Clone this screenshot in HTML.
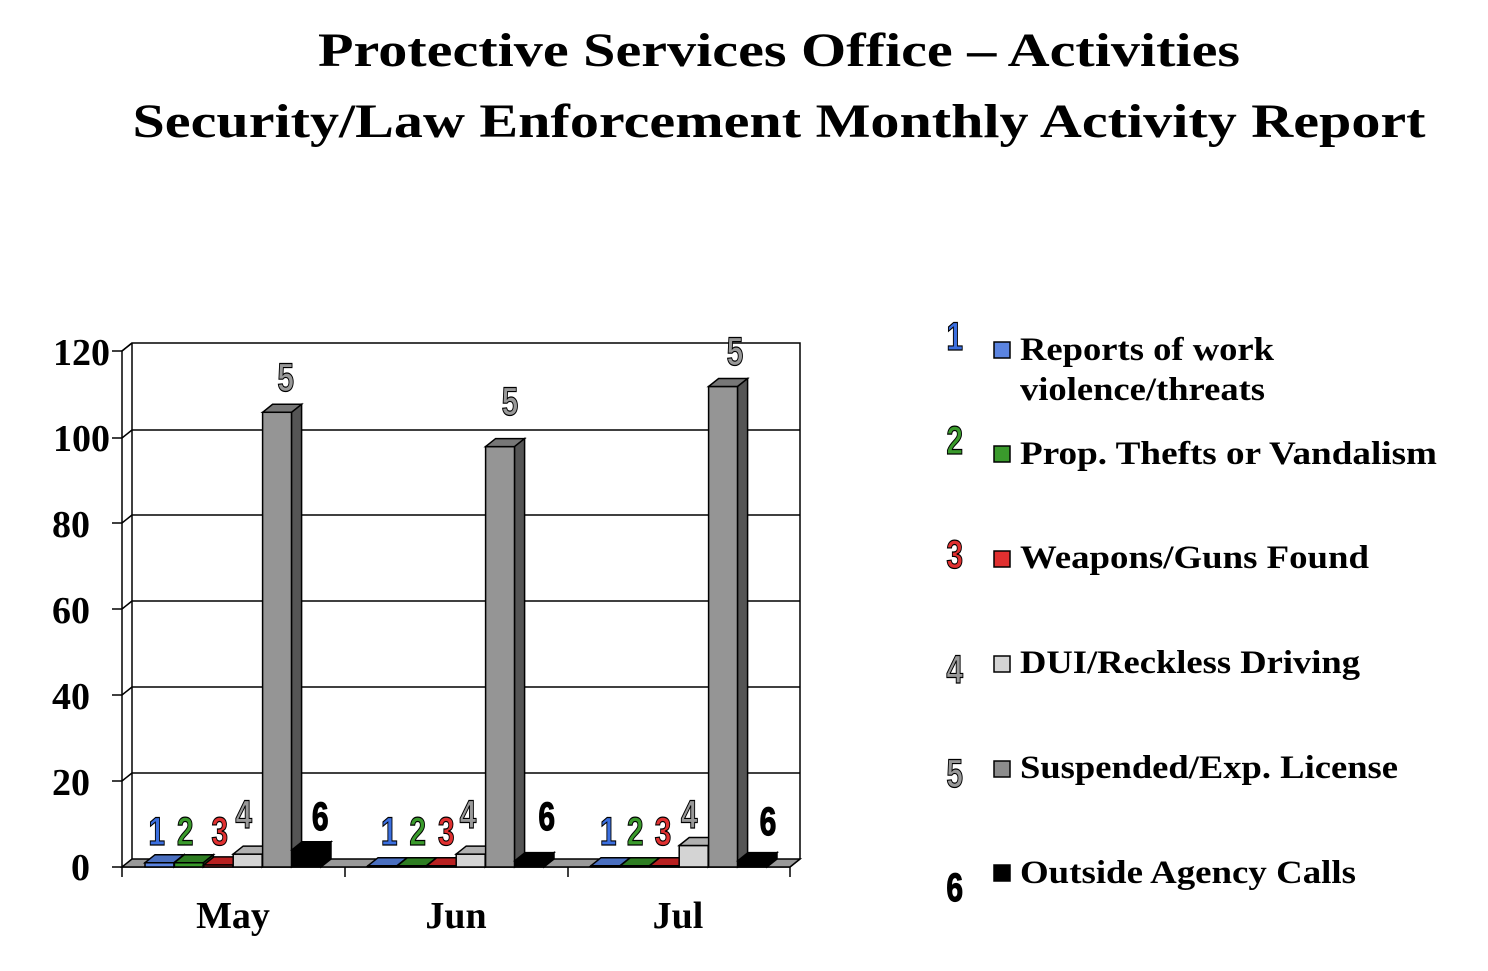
<!DOCTYPE html>
<html><head><style>body{margin:0;background:#fff}</style></head><body>
<svg width="1488" height="966" xmlns="http://www.w3.org/2000/svg" font-family="Liberation Serif, serif">
<text x="779" y="66" text-anchor="middle" font-size="48" font-weight="bold" textLength="922" lengthAdjust="spacingAndGlyphs">Protective Services Office – Activities</text>
<text x="779" y="137" text-anchor="middle" font-size="48" font-weight="bold" textLength="1293" lengthAdjust="spacingAndGlyphs">Security/Law Enforcement Monthly Activity Report</text>
<g stroke="#000" stroke-width="1.5" fill="none">
<polygon points="132,343 800,343 800,859 790,867 122,867 122,351" fill="#fff"/>
<line x1="132" y1="343" x2="132" y2="859"/>
<line x1="122" y1="351" x2="132" y2="343"/>
<line x1="132" y1="430" x2="800" y2="430"/><line x1="122" y1="438" x2="132" y2="430"/>
<line x1="132" y1="515" x2="800" y2="515"/><line x1="122" y1="523" x2="132" y2="515"/>
<line x1="132" y1="601" x2="800" y2="601"/><line x1="122" y1="609" x2="132" y2="601"/>
<line x1="132" y1="687" x2="800" y2="687"/><line x1="122" y1="695" x2="132" y2="687"/>
<line x1="132" y1="773" x2="800" y2="773"/><line x1="122" y1="781" x2="132" y2="773"/>
<polygon points="122,867 132,859 800,859 790,867" fill="#999"/>
<line x1="112" y1="351" x2="122" y2="351"/><line x1="112" y1="438" x2="122" y2="438"/><line x1="112" y1="523" x2="122" y2="523"/><line x1="112" y1="609" x2="122" y2="609"/><line x1="112" y1="695" x2="122" y2="695"/><line x1="112" y1="781" x2="122" y2="781"/><line x1="112" y1="867" x2="122" y2="867"/>
<line x1="122" y1="867" x2="122" y2="877"/><line x1="345" y1="867" x2="345" y2="877"/><line x1="568" y1="867" x2="568" y2="877"/><line x1="790" y1="867" x2="790" y2="877"/>
</g>
<g font-size="38" font-weight="bold" text-anchor="end">
<text x="110" y="365">120</text><text x="110" y="451">100</text><text x="90" y="537">80</text><text x="90" y="623">60</text><text x="90" y="709">40</text><text x="90" y="795">20</text><text x="90" y="880">0</text>
</g>
<g font-size="38" font-weight="bold" text-anchor="middle">
<text x="233" y="928">May</text><text x="456" y="928">Jun</text><text x="678" y="928">Jul</text>
</g>
<g stroke="#000" stroke-width="1.5">
<g transform="translate(145,862.7)"><rect width="29" height="4.3" fill="#5b84e0"/><polygon points="0,0 10,-8 39,-8 29,0" fill="#4a6fc0"/><polygon points="29,0 39,-8 39,-3.7 29,4.3" fill="#3b5aa0"/></g>
<g transform="translate(174.4,862.7)"><rect width="29" height="4.3" fill="#3a9a2c"/><polygon points="0,0 10,-8 39,-8 29,0" fill="#2e7d22"/><polygon points="29,0 39,-8 39,-3.7 29,4.3" fill="#1f5a17"/></g>
<g transform="translate(203.8,864.9)"><rect width="29" height="2.1" fill="#e03030"/><polygon points="0,0 10,-8 39,-8 29,0" fill="#b82020"/></g>
<g transform="translate(233.2,854.1)"><rect width="29" height="12.9" fill="#d4d4d4"/><polygon points="0,0 10,-8 39,-8 29,0" fill="#b0b0b0"/><polygon points="29,0 39,-8 39,4.9 29,12.9" fill="#888"/></g>
<g transform="translate(262.6,412.3)"><rect width="29" height="454.7" fill="#959595"/><polygon points="0,0 10,-8 39,-8 29,0" fill="#777"/><polygon points="29,0 39,-8 39,446.7 29,454.7" fill="#555"/></g>
<g transform="translate(292,849.8)"><rect width="29" height="17.2" fill="#000"/><polygon points="0,0 10,-8 39,-8 29,0" fill="#000"/><polygon points="29,0 39,-8 39,9.2 29,17.2" fill="#000"/></g>
<g transform="translate(368,865.7)"><rect width="29" height="1.3" fill="#5b84e0"/><polygon points="0,0 10,-8 39,-8 29,0" fill="#4a6fc0"/></g>
<g transform="translate(397.4,865.7)"><rect width="29" height="1.3" fill="#3a9a2c"/><polygon points="0,0 10,-8 39,-8 29,0" fill="#2e7d22"/></g>
<g transform="translate(426.8,865.7)"><rect width="29" height="1.3" fill="#e03030"/><polygon points="0,0 10,-8 39,-8 29,0" fill="#b82020"/></g>
<g transform="translate(456.2,854.1)"><rect width="29" height="12.9" fill="#d4d4d4"/><polygon points="0,0 10,-8 39,-8 29,0" fill="#b0b0b0"/><polygon points="29,0 39,-8 39,4.9 29,12.9" fill="#888"/></g>
<g transform="translate(485.6,446.6)"><rect width="29" height="420.4" fill="#959595"/><polygon points="0,0 10,-8 39,-8 29,0" fill="#777"/><polygon points="29,0 39,-8 39,412.4 29,420.4" fill="#555"/></g>
<g transform="translate(515,860.6)"><rect width="29" height="6.4" fill="#000"/><polygon points="0,0 10,-8 39,-8 29,0" fill="#000"/><polygon points="29,0 39,-8 39,-1.6 29,6.4" fill="#000"/></g>
<g transform="translate(591,865.7)"><rect width="29" height="1.3" fill="#5b84e0"/><polygon points="0,0 10,-8 39,-8 29,0" fill="#4a6fc0"/></g>
<g transform="translate(620.4,865.7)"><rect width="29" height="1.3" fill="#3a9a2c"/><polygon points="0,0 10,-8 39,-8 29,0" fill="#2e7d22"/></g>
<g transform="translate(649.8,865.7)"><rect width="29" height="1.3" fill="#e03030"/><polygon points="0,0 10,-8 39,-8 29,0" fill="#b82020"/></g>
<g transform="translate(679.2,845.5)"><rect width="29" height="21.5" fill="#d4d4d4"/><polygon points="0,0 10,-8 39,-8 29,0" fill="#b0b0b0"/><polygon points="29,0 39,-8 39,13.5 29,21.5" fill="#888"/></g>
<g transform="translate(708.6,386.5)"><rect width="29" height="480.5" fill="#959595"/><polygon points="0,0 10,-8 39,-8 29,0" fill="#777"/><polygon points="29,0 39,-8 39,472.5 29,480.5" fill="#555"/></g>
<g transform="translate(738,860.6)"><rect width="29" height="6.4" fill="#000"/><polygon points="0,0 10,-8 39,-8 29,0" fill="#000"/><polygon points="29,0 39,-8 39,-1.6 29,6.4" fill="#000"/></g>
</g>
<g font-family="Liberation Sans, sans-serif" font-weight="bold" font-size="40" text-anchor="middle" stroke="#000" stroke-width="1.2">
<g transform="scale(0.75,1)">
<text x="209" y="845" fill="#3b6fe0">1</text><text x="247" y="845" fill="#3a9a2c">2</text><text x="293" y="845" fill="#e03030">3</text><text x="325" y="828" fill="#999">4</text><text x="381" y="391" fill="#999">5</text><text x="427" y="830" fill="#000">6</text>
<text x="519" y="845" fill="#3b6fe0">1</text><text x="557" y="845" fill="#3a9a2c">2</text><text x="595" y="845" fill="#e03030">3</text><text x="624" y="828" fill="#999">4</text><text x="680" y="415" fill="#999">5</text><text x="729" y="830" fill="#000">6</text>
<text x="811" y="845" fill="#3b6fe0">1</text><text x="847" y="845" fill="#3a9a2c">2</text><text x="884" y="845" fill="#e03030">3</text><text x="919" y="828" fill="#999">4</text><text x="980" y="365" fill="#999">5</text><text x="1024" y="835" fill="#000">6</text>
<text x="1273" y="350" fill="#3b6fe0">1</text><text x="1273" y="454" fill="#3a9a2c">2</text><text x="1273" y="568" fill="#e03030">3</text><text x="1273" y="683" fill="#999">4</text><text x="1273" y="787" fill="#999">5</text><text x="1273" y="901" fill="#000">6</text>
</g>
</g>
<g font-size="33" font-weight="bold">
<text x="1020" y="360" textLength="254" lengthAdjust="spacingAndGlyphs">Reports of work</text><text x="1020" y="400" textLength="245" lengthAdjust="spacingAndGlyphs">violence/threats</text>
<text x="1020" y="464" textLength="417" lengthAdjust="spacingAndGlyphs">Prop. Thefts or Vandalism</text>
<text x="1020" y="568" textLength="349" lengthAdjust="spacingAndGlyphs">Weapons/Guns Found</text>
<text x="1020" y="673" textLength="340" lengthAdjust="spacingAndGlyphs">DUI/Reckless Driving</text>
<text x="1020" y="778" textLength="378" lengthAdjust="spacingAndGlyphs">Suspended/Exp. License</text>
<text x="1020" y="883" textLength="336" lengthAdjust="spacingAndGlyphs">Outside Agency Calls</text>
</g>
<g stroke="#000" stroke-width="1.5">
<rect x="994" y="342" width="16" height="16" fill="#5b84e0"/>
<rect x="994" y="446" width="16" height="16" fill="#3a9a2c"/>
<rect x="994" y="551" width="16" height="16" fill="#e03030"/>
<rect x="994" y="656" width="16" height="16" fill="#d4d4d4"/>
<rect x="994" y="761" width="16" height="16" fill="#8c8c8c"/>
<rect x="994" y="865" width="16" height="16" fill="#000"/>
</g>
</svg>
</body></html>
